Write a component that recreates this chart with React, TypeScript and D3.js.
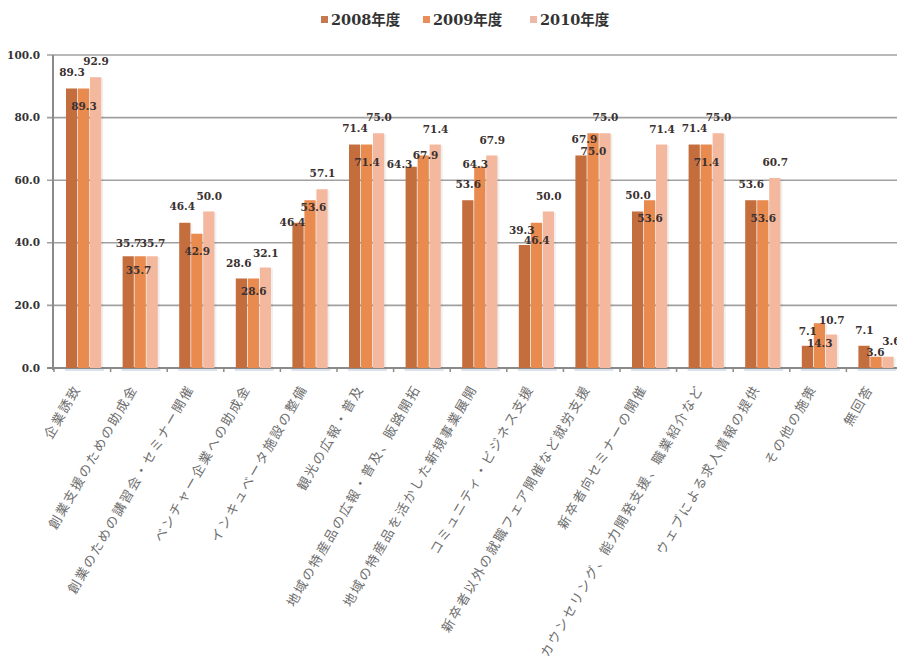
import React from "react";
import * as d3 from "d3";

const categories = [
  "企業誘致",
  "創業支援のための助成金",
  "創業のための講習会・セミナー開催",
  "ベンチャー企業への助成金",
  "インキュベータ施設の整備",
  "観光の広報・普及",
  "地域の特産品の広報・普及、販路開拓",
  "地域の特産品を活かした新規事業展開",
  "コミュニティ・ビジネス支援",
  "新卒者以外の就職フェア開催など就労支援",
  "新卒者向セミナーの開催",
  "カウンセリング、能力開発支援、職業紹介など",
  "ウェブによる求人情報の提供",
  "その他の施策",
  "無回答",
];

const seriesNames = ["2008年度", "2009年度", "2010年度"];

const values2008 = [89.3, 35.7, 46.4, 28.6, 46.4, 71.4, 64.3, 53.6, 39.3, 67.9, 50.0, 71.4, 53.6, 7.1, 7.1];
const values2009 = [89.3, 35.7, 42.9, 28.6, 53.6, 71.4, 67.9, 64.3, 46.4, 75.0, 53.6, 71.4, 53.6, 14.3, 3.6];
const values2010 = [92.9, 35.7, 50.0, 32.1, 57.1, 75.0, 71.4, 67.9, 50.0, 75.0, 71.4, 75.0, 60.7, 10.7, 3.6];

const yTicks = [0, 20, 40, 60, 80, 100];

const seriesValues = [values2008, values2009, values2010];
const colors = ["#C46E3D", "#E98A4F", "#F3B89E"];
const legendColors = ["#C47A50", "#E98E58", "#EEB8A8"];

// default label offset (px from bar top to text centre) per series
const labelOffsets = [-16, 18, -15.5];
// hand-placed label nudges: [category index, series index, dx, dy]
const labelNudges: [number, number, number, number][] = [
  [1, 0, 0, -13],
  [1, 1, -2, 14],
  [1, 2, 0, -13],
  [2, 0, -3, -16],
  [3, 0, -3, -15.5],
  [3, 1, 0, 12.5],
  [3, 2, 0, -14.5],
  [4, 0, -6, 0],
  [4, 1, 3, 7],
  [6, 0, -12, -2],
  [6, 1, 2, 0],
  [7, 1, -5, -2],
  [8, 0, -3, -15],
  [9, 0, 3, -16.5],
  [13, 0, 0, -14],
  [13, 1, 0, 20],
  [13, 2, 0, -14.5],
  [14, 0, 0, -15],
  [14, 1, -1, -4],
  [14, 2, 3, -15],
];

const W = 897;
const H = 656;
const left = 54;
const step = 56.6;
const baseY = 368;
const topY = 55;

const numFont = "'DejaVu Serif', 'Liberation Serif', serif";
const cjkFont = "'Noto Sans CJK JP', 'Noto Sans', sans-serif";

export default function App() {
  const x0 = d3
    .scaleBand<string>()
    .domain(categories)
    .range([left, left + step * categories.length]);
  const x1 = d3.scaleBand<string>().domain(seriesNames).range([12, 48]);
  const y = d3.scaleLinear().domain([0, 100]).range([baseY, topY]);

  const bw = x1.bandwidth();

  const nudge = (ci: number, si: number): [number, number] => {
    const n = labelNudges.find((d) => d[0] === ci && d[1] === si);
    return n ? [n[2], n[3]] : [0, labelOffsets[si]];
  };

  return (
    <svg
      width={W}
      height={H}
      style={{ position: "absolute", left: 0, top: 0, background: "#fff" }}
    >
      {/* legend */}
      <g fontFamily={`${numFont}, ${cjkFont}`} fontWeight="bold" fontSize={14.5} fill="#333">
        {seriesNames.map((s, i) => {
          const lx = [321, 423, 530][i];
          return (
            <g key={s}>
              <rect x={lx} y={16} width={7} height={7} fill={legendColors[i]} />
              <text x={lx + 10} y={24.5}>
                {s}
              </text>
            </g>
          );
        })}
      </g>

      {/* gridlines */}
      {yTicks.map((t) => (
        <line
          key={t}
          x1={left - 7}
          x2={W}
          y1={y(t)}
          y2={y(t)}
          stroke={t === 0 ? "#8a8a8a" : "#a0a0a0"}
          strokeWidth={t === 0 ? 2 : 1.6}
        />
      ))}
      <line x1={left - 1} x2={left - 1} y1={topY} y2={baseY + 2} stroke="#8a8a8a" strokeWidth={2} />

      {/* y tick labels */}
      <g fontFamily={numFont} fontWeight="bold" fontSize={10.5} fill="#333" textAnchor="end">
        {yTicks.map((t) => (
          <text key={t} x={40} y={y(t)} dy="0.35em">
            {d3.format(".1f")(t)}
          </text>
        ))}
      </g>

      {/* x ticks */}
      {d3.range(categories.length + 1).map((i) => (
        <line
          key={i}
          x1={left + i * step}
          x2={left + i * step}
          y1={baseY}
          y2={baseY + 4}
          stroke="#8a8a8a"
          strokeWidth={1.5}
        />
      ))}

      {/* bars */}
      {categories.map((c, ci) => (
        <g key={c} transform={`translate(${x0(c)},0)`}>
          <rect
            x={x1(seriesNames[0])! - 1}
            y={baseY + 1}
            width={bw * 3 + 3}
            height={2}
            fill="#dbe4ee"
          />
          {seriesNames.map((s, si) => {
            const v = seriesValues[si][ci];
            return (
              <g key={s}>
                <rect
                  x={x1(s)! + 1.2}
                  y={y(v) + 1}
                  width={bw}
                  height={baseY - y(v) - 1}
                  fill="#000"
                  opacity={0.06}
                />
                <rect
                  x={x1(s)!}
                  y={y(v)}
                  width={bw - 0.8}
                  height={baseY - y(v)}
                  fill={colors[si]}
                />
              </g>
            );
          })}
        </g>
      ))}

      {/* data labels */}
      <g fontFamily={numFont} fontWeight="bold" fontSize={10.5} fill="#3a3030" textAnchor="middle">
        {categories.map((c, ci) =>
          seriesNames.map((s, si) => {
            const v = seriesValues[si][ci];
            const [dx, dy] = nudge(ci, si);
            return (
              <text
                key={c + s}
                x={x0(c)! + x1(s)! + bw / 2 + dx}
                y={y(v) + dy}
                dy="0.35em"
              >
                {d3.format(".1f")(v)}
              </text>
            );
          })
        )}
      </g>

      {/* category labels */}
      <g fontFamily={cjkFont} fontSize={13} letterSpacing={1.9} fill="#6e6e6e" textAnchor="end">
        {categories.map((c) => {
          const cx = x0(c)! + step / 2 - 5;
          const cy = 386;
          return (
            <text key={c} transform={`translate(${cx},${cy}) rotate(-60)`} dy="0.35em">
              {c}
            </text>
          );
        })}
      </g>
    </svg>
  );
}
